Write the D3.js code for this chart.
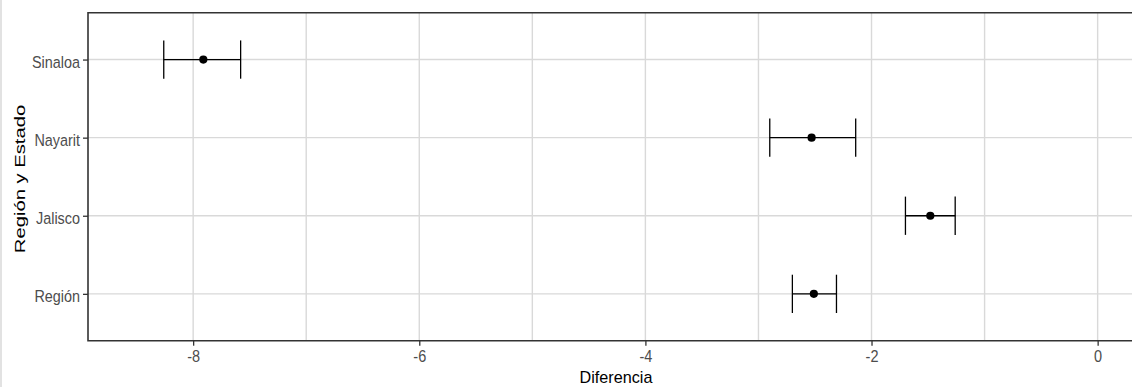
<!DOCTYPE html>
<html>
<head>
<meta charset="utf-8">
<script src="https://cdn.jsdelivr.net/npm/d3@7"></script>
<style>
  html, body { margin: 0; padding: 0; background: #fff; }
  svg { display: block; font-family: "Liberation Sans", Arial, sans-serif; }
</style>
</head>
<body>
<svg id="chart" width="1132" height="387"></svg>
<script>
// Data (top to bottom on the chart)
const categories = ["Sinaloa", "Nayarit", "Jalisco", "Región"];
const estimates  = [-7.91, -2.53, -1.48, -2.51];
const lowerCI    = [-8.26, -2.90, -1.70, -2.70];
const upperCI    = [-7.58, -2.14, -1.26, -2.31];
const xTickValues = [-8, -6, -4, -2, 0];
const xGridValues = [-8, -7, -6, -5, -4, -3, -2, -1, 0];
const xTitle = "Diferencia";
const yTitle = "Región y Estado";

const rows = categories.map((c, i) => ({ cat: c, est: estimates[i], lo: lowerCI[i], hi: upperCI[i] }));

const svg = d3.select("#chart");
const panel = { left: 88, top: 12.7, right: 1144, bottom: 340.7 };

const x = d3.scaleLinear().domain([-8.93, 0.41]).range([panel.left, panel.right]);
const y = d3.scalePoint().domain(categories).range([panel.top, panel.bottom]).padding(0.6);

// faint left edge artifact
svg.append("line").attr("x1", 1).attr("x2", 1).attr("y1", 0).attr("y2", 387)
  .attr("stroke", "#e2e2e2").attr("stroke-width", 2);

const g = svg.append("g");

// Gridlines
g.selectAll(".vgrid").data(xGridValues).join("line")
  .attr("x1", d => x(d)).attr("x2", d => x(d))
  .attr("y1", panel.top).attr("y2", panel.bottom)
  .attr("stroke", "#d9d9d9").attr("stroke-width", 1.4);
g.selectAll(".hgrid").data(categories).join("line")
  .attr("x1", panel.left).attr("x2", panel.right)
  .attr("y1", d => y(d)).attr("y2", d => y(d))
  .attr("stroke", "#d9d9d9").attr("stroke-width", 1.4);

// Error bars
const capHalf = y.step() * 0.245;
const eb = g.selectAll(".eb").data(rows).join("g");
eb.append("line")
  .attr("x1", d => x(d.lo)).attr("x2", d => x(d.hi))
  .attr("y1", d => y(d.cat)).attr("y2", d => y(d.cat))
  .attr("stroke", "#000").attr("stroke-width", 1.3);
eb.append("line")
  .attr("x1", d => x(d.lo)).attr("x2", d => x(d.lo))
  .attr("y1", d => y(d.cat) - capHalf).attr("y2", d => y(d.cat) + capHalf)
  .attr("stroke", "#000").attr("stroke-width", 1.3);
eb.append("line")
  .attr("x1", d => x(d.hi)).attr("x2", d => x(d.hi))
  .attr("y1", d => y(d.cat) - capHalf).attr("y2", d => y(d.cat) + capHalf)
  .attr("stroke", "#000").attr("stroke-width", 1.3);
eb.append("circle")
  .attr("cx", d => x(d.est)).attr("cy", d => y(d.cat))
  .attr("r", 4.1).attr("fill", "#000");

// Panel border (left, top, bottom; right side lies beyond the window)
const borderColor = "#333333";
svg.append("path")
  .attr("d", `M${panel.right},${panel.top}H${panel.left}V${panel.bottom}H${panel.right}`)
  .attr("fill", "none").attr("stroke", borderColor).attr("stroke-width", 1.6);

// X axis
const xAxis = svg.append("g").attr("transform", `translate(0,${panel.bottom})`)
  .call(d3.axisBottom(x).tickValues(xTickValues).tickSize(5).tickSizeOuter(0).tickFormat(d3.format("d")));
xAxis.select(".domain").remove();
xAxis.selectAll(".tick line").attr("stroke", borderColor).attr("stroke-width", 1.3);
xAxis.selectAll(".tick text")
  .text(d => (d < 0 ? "-" : "") + Math.abs(d))
  .attr("fill", "#4d4d4d").attr("font-size", 14.5)
  .attr("y", 21.6 / 1.19).attr("dy", 0)
  .attr("transform", "scale(1,1.19)");

// Y axis
const yAxis = svg.append("g").attr("transform", `translate(${panel.left},0)`)
  .call(d3.axisLeft(y).tickSize(5).tickSizeOuter(0));
yAxis.select(".domain").remove();
yAxis.selectAll(".tick line").attr("stroke", borderColor).attr("stroke-width", 1.3);
yAxis.selectAll(".tick text")
  .attr("fill", "#4d4d4d").attr("font-size", 14.4)
  .attr("x", -8).attr("y", 7.6 / 1.19).attr("dy", 0)
  .attr("transform", "scale(1,1.19)");

// Axis titles
svg.append("text").text(xTitle)
  .attr("text-anchor", "middle").attr("font-size", 16.2).attr("fill", "#000")
  .attr("transform", `translate(${(panel.left + panel.right) / 2},383) scale(1,1.05)`);
svg.append("text").text(yTitle)
  .attr("text-anchor", "middle").attr("font-size", 15).attr("fill", "#000")
  .attr("transform", `translate(24.5,179) rotate(-90) scale(1.35,1)`);
</script>
</body>
</html>
